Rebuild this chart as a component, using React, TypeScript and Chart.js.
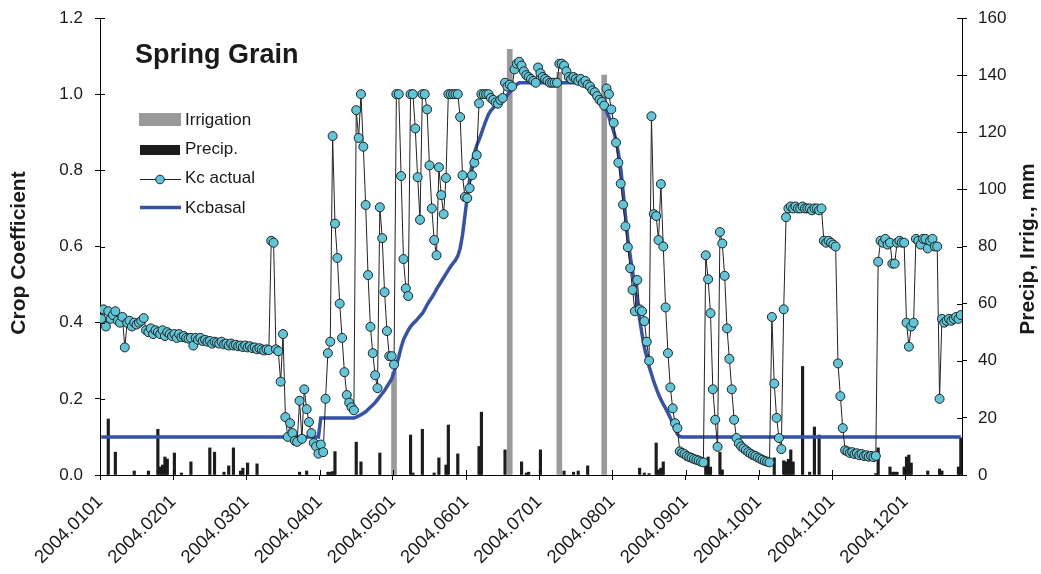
import React, { useEffect, useRef } from "react";
import { Chart, registerables } from "chart.js";

Chart.register(...registerables);

const FONT = "'Liberation Sans', Arial, Helvetica, sans-serif";

// Day-of-season tick positions and their date labels
const tickDays = [0, 31, 62, 93, 124, 155, 186, 217, 248, 279, 310, 341];
const tickLabels = [
  "2004.0101", "2004.0201", "2004.0301", "2004.0401", "2004.0501", "2004.0601",
  "2004.0701", "2004.0801", "2004.0901", "2004.1001", "2004.1101", "2004.1201",
];

// Daily actual crop coefficient (365 days)
const kcActual = [
  0.41, 0.435, 0.39, 0.43, 0.41, 0.42, 0.43, 0.405, 0.40, 0.415,
  0.335, 0.40, 0.405, 0.39, 0.40, 0.395, 0.40, 0.405, 0.412, 0.38,
  0.375, 0.385, 0.37, 0.38, 0.375, 0.37, 0.38, 0.365, 0.375, 0.37,
  0.365, 0.37, 0.36, 0.37, 0.362, 0.365, 0.36, 0.358, 0.36, 0.34,
  0.36, 0.355, 0.36, 0.352, 0.355, 0.35, 0.352, 0.345, 0.35, 0.348,
  0.345, 0.35, 0.343, 0.345, 0.34, 0.345, 0.34, 0.342, 0.338, 0.34,
  0.336, 0.34, 0.335, 0.338, 0.333, 0.335, 0.33, 0.333, 0.33, 0.327,
  0.33, 0.328, 0.615, 0.61, 0.33, 0.325, 0.245, 0.37, 0.152, 0.10,
  0.136, 0.11, 0.09, 0.087, 0.195, 0.095, 0.225, 0.173, 0.139, 0.11,
  0.084, 0.075, 0.056, 0.08, 0.06, 0.20, 0.32, 0.35, 0.89, 0.66,
  0.57, 0.45, 0.36, 0.27, 0.21, 0.19, 0.178, 0.17, 0.958, 0.885,
  1.0, 0.862, 0.709, 0.525, 0.389, 0.32, 0.262, 0.228, 0.703, 0.622,
  0.48, 0.378, 0.312, 0.312, 0.29, 1.0, 1.0, 0.785, 0.567, 0.49,
  0.47, 1.0, 1.0, 0.91, 0.782, 0.67, 1.0, 1.0, 0.96, 0.813,
  0.70, 0.617, 0.577, 0.808, 0.735, 0.685, 0.78, 1.0, 1.0, 1.0,
  1.0, 1.0, 0.94, 0.787, 0.73, 0.727, 0.753, 0.787, 0.82, 0.84,
  0.976, 1.0, 1.0, 1.0, 1.0, 0.99, 0.985, 0.978, 0.975, 0.985,
  0.99, 1.03, 1.02, 1.025, 1.02, 1.065, 1.08, 1.085, 1.075, 1.06,
  1.05, 1.045, 1.04, 1.035, 1.03, 1.07, 1.055, 1.045, 1.04,
  1.035, 1.03, 1.03, 1.03, 1.03, 1.08, 1.08, 1.075, 1.06, 1.045,
  1.04, 1.045, 1.04, 1.035, 1.04, 1.03, 1.035, 1.025, 1.02, 1.01,
  1.005, 0.995, 0.985, 0.98, 0.97, 1.015, 1.0, 0.96, 0.925, 0.873,
  0.82, 0.765, 0.71, 0.653, 0.598, 0.543, 0.486, 0.43, 0.512, 0.435,
  0.43, 0.404, 0.35, 0.30, 0.942, 0.685, 0.68, 0.617, 0.764, 0.60,
  0.44, 0.32, 0.23, 0.175, 0.136, 0.123, 0.062, 0.058, 0.055, 0.05,
  0.047, 0.045, 0.042, 0.04, 0.038, 0.035, 0.033, 0.577, 0.514, 0.425,
  0.225, 0.145, 0.074, 0.638, 0.608, 0.523, 0.385, 0.305, 0.225, 0.145,
  0.097, 0.083, 0.075, 0.07, 0.065, 0.06, 0.056, 0.052, 0.05, 0.046,
  0.043, 0.04, 0.037, 0.035, 0.033, 0.415, 0.24, 0.15, 0.097, 0.068,
  0.435, 0.677, 0.70, 0.705, 0.70, 0.705, 0.70, 0.70, 0.705, 0.70,
  0.70, 0.70, 0.695, 0.70, 0.70, 0.695, 0.70, 0.615, 0.61, 0.615,
  0.61, 0.605, 0.60, 0.293, 0.207, 0.123, 0.065, 0.062, 0.058, 0.06,
  0.055, 0.057, 0.052, 0.055, 0.05, 0.052, 0.048, 0.05, 0.047, 0.05,
  0.56, 0.615, 0.61, 0.62, 0.605, 0.61, 0.555, 0.555, 0.61, 0.615,
  0.61, 0.61, 0.40, 0.337, 0.39, 0.40, 0.62, 0.615, 0.605, 0.62,
  0.62, 0.595, 0.615, 0.62, 0.60, 0.60, 0.20, 0.41, 0.40, 0.405,
  0.41, 0.405, 0.41, 0.415, 0.41, 0.42,
];

// Daily basal crop coefficient (365 days)
const kcBasal = [
  0.10, 0.10, 0.10, 0.10, 0.10, 0.10, 0.10, 0.10, 0.10, 0.10,
  0.10, 0.10, 0.10, 0.10, 0.10, 0.10, 0.10, 0.10, 0.10, 0.10,
  0.10, 0.10, 0.10, 0.10, 0.10, 0.10, 0.10, 0.10, 0.10, 0.10,
  0.10, 0.10, 0.10, 0.10, 0.10, 0.10, 0.10, 0.10, 0.10, 0.10,
  0.10, 0.10, 0.10, 0.10, 0.10, 0.10, 0.10, 0.10, 0.10, 0.10,
  0.10, 0.10, 0.10, 0.10, 0.10, 0.10, 0.10, 0.10, 0.10, 0.10,
  0.10, 0.10, 0.10, 0.10, 0.10, 0.10, 0.10, 0.10, 0.10, 0.10,
  0.10, 0.10, 0.10, 0.10, 0.10, 0.10, 0.10, 0.10, 0.10, 0.10,
  0.10, 0.10, 0.10, 0.10, 0.10, 0.10, 0.10, 0.10, 0.10, 0.10,
  0.10, 0.10, 0.10,
  0.15, 0.15, 0.15, 0.15, 0.15, 0.15, 0.15, 0.15, 0.15, 0.15,
  0.15, 0.15, 0.15, 0.15, 0.15,
  0.152, 0.155, 0.158, 0.162, 0.166, 0.172, 0.178, 0.184, 0.19, 0.198,
  0.206, 0.214, 0.222, 0.232, 0.242, 0.252, 0.27, 0.29, 0.31, 0.335,
  0.355, 0.368, 0.38, 0.39, 0.397, 0.403, 0.41, 0.417, 0.424, 0.435,
  0.447, 0.457, 0.466, 0.476, 0.488, 0.498, 0.508, 0.518, 0.528, 0.538,
  0.548, 0.556, 0.564, 0.575, 0.595, 0.63, 0.68, 0.73, 0.775, 0.815,
  0.845, 0.865, 0.88, 0.897, 0.915, 0.932, 0.947, 0.957, 0.964, 0.97,
  0.975, 0.98, 0.986, 0.992, 0.998, 1.005, 1.012, 1.02, 1.026, 1.03,
  1.03, 1.03, 1.03, 1.03, 1.03, 1.03, 1.03, 1.03, 1.03, 1.03,
  1.03, 1.03, 1.03, 1.03, 1.03, 1.03, 1.03, 1.03, 1.03, 1.03,
  1.03, 1.03, 1.03, 1.03, 1.03, 1.03, 1.03,
  1.028, 1.025, 1.02, 1.015, 1.008, 1.0, 0.99, 0.98, 0.968, 0.955,
  0.94, 0.922, 0.902, 0.88, 0.845, 0.805, 0.745, 0.68, 0.62, 0.575,
  0.535, 0.495, 0.455, 0.41, 0.37, 0.335, 0.31, 0.285, 0.265, 0.245,
  0.228, 0.212, 0.198, 0.186, 0.175, 0.163, 0.15, 0.135, 0.12, 0.107,
  0.101,
  0.10, 0.10, 0.10, 0.10, 0.10, 0.10, 0.10, 0.10, 0.10, 0.10,
  0.10, 0.10, 0.10, 0.10, 0.10, 0.10, 0.10, 0.10, 0.10, 0.10,
  0.10, 0.10, 0.10, 0.10, 0.10, 0.10, 0.10, 0.10, 0.10, 0.10,
  0.10, 0.10, 0.10, 0.10, 0.10, 0.10, 0.10, 0.10, 0.10, 0.10,
  0.10, 0.10, 0.10, 0.10, 0.10, 0.10, 0.10, 0.10, 0.10, 0.10,
  0.10, 0.10, 0.10, 0.10, 0.10, 0.10, 0.10, 0.10, 0.10, 0.10,
  0.10, 0.10, 0.10, 0.10, 0.10, 0.10, 0.10, 0.10, 0.10, 0.10,
  0.10, 0.10, 0.10, 0.10, 0.10, 0.10, 0.10, 0.10, 0.10, 0.10,
  0.10, 0.10, 0.10, 0.10, 0.10, 0.10, 0.10, 0.10, 0.10, 0.10,
  0.10, 0.10, 0.10, 0.10, 0.10, 0.10, 0.10, 0.10, 0.10, 0.10,
  0.10, 0.10, 0.10, 0.10, 0.10, 0.10, 0.10, 0.10, 0.10, 0.10,
  0.10, 0.10, 0.10, 0.10, 0.10, 0.10, 0.10, 0.10, 0.10,
];

// Rain events: day index and depth (mm)
const precipDay = [
  3, 6, 14, 20, 24, 25, 26, 27, 28, 31, 34, 38, 46, 48, 52, 54, 56, 59, 60, 62,
  66, 84, 87, 96, 97, 98, 99, 108, 110, 118, 131, 132, 136, 141, 143, 146, 147, 151, 160, 161,
  171, 178, 180, 181, 186, 196, 200, 202, 206, 228, 230, 232, 235, 236, 237, 238, 256, 257, 258, 262,
  263, 285, 289, 290, 291, 292, 293, 297, 300, 302, 304, 328, 329, 334, 335, 336, 337, 340, 341, 342,
  343, 350, 355, 356, 363, 364,
];
const precipMm = [
  19.6, 8, 1.4, 1.4, 16, 2.8, 3.5, 6.3, 5.6, 7.7, 0.7, 4.6, 9.5, 8, 1, 3.2, 9.5, 1.4, 2.4, 4.2,
  3.9, 1, 1.4, 1, 1, 1.2, 8.2, 11.5, 4.6, 7.7, 14, 0.7, 16, 0.7, 6, 3.5, 17.5, 7.4, 10, 22,
  8.8, 4.6, 0.7, 1, 8.8, 1.4, 1, 1.4, 3.2, 2.4, 0.7, 0.5, 11.2, 1.8, 2.4, 4.6, 4, 6.3, 2.8, 8,
  1.8, 6, 5, 4.6, 5.5, 8.8, 4.6, 38, 1, 16.8, 14, 0.5, 9.5, 2.8, 1, 1, 1, 2.8, 6.3, 7,
  4.2, 1.4, 2.1, 1.4, 2.8, 13,
];

// Irrigation events: day index and depth (mm)
const irrigDay = [124, 173, 194, 213];
const irrigMm = [36, 149, 141, 140];

const COLORS = {
  irrigation: "#9a9a9a",
  precip: "#1c1c1c",
  kcActualLine: "#222222",
  kcActualFill: "#5ec6d8",
  kcBasal: "#3552a8",
  text: "#1a1a1a",
};

const overlayPlugin = {
  id: "overlay",
  afterDraw(chart: any) {
    const { ctx, chartArea, scales } = chart;
    ctx.save();

    // tick marks that cross into the plot
    ctx.strokeStyle = "#000";
    ctx.lineWidth = 1;
    ctx.beginPath();
    scales.y.ticks.forEach((t: any) => {
      const py = Math.round(scales.y.getPixelForValue(t.value)) + 0.5;
      ctx.moveTo(chartArea.left, py);
      ctx.lineTo(chartArea.left + 5, py);
    });
    scales.y1.ticks.forEach((t: any) => {
      const py = Math.round(scales.y1.getPixelForValue(t.value)) + 0.5;
      ctx.moveTo(chartArea.right - 5, py);
      ctx.lineTo(chartArea.right, py);
    });
    scales.x.ticks.forEach((t: any) => {
      const px = Math.round(scales.x.getPixelForValue(t.value)) + 0.5;
      ctx.moveTo(px, chartArea.bottom - 5);
      ctx.lineTo(px, chartArea.bottom);
    });
    ctx.stroke();

    // chart title
    ctx.fillStyle = COLORS.text;
    ctx.textAlign = "left";
    ctx.textBaseline = "alphabetic";
    ctx.font = `bold 27px ${FONT}`;
    ctx.fillText("Spring Grain", 135, 63);

    // axis titles
    ctx.font = `bold 21px ${FONT}`;
    ctx.textAlign = "center";
    ctx.textBaseline = "middle";
    ctx.save();
    ctx.translate(19, 253);
    ctx.rotate(-Math.PI / 2);
    ctx.fillText("Crop Coefficient", 0, 0);
    ctx.restore();
    ctx.save();
    ctx.translate(1028, 249);
    ctx.rotate(-Math.PI / 2);
    ctx.fillText("Precip, Irrig., mm", 0, 0);
    ctx.restore();

    // legend
    ctx.fillStyle = COLORS.irrigation;
    ctx.fillRect(139, 113, 42, 13);
    ctx.fillStyle = COLORS.precip;
    ctx.fillRect(140, 145, 40, 10);

    ctx.strokeStyle = COLORS.kcActualLine;
    ctx.lineWidth = 1;
    ctx.beginPath();
    ctx.moveTo(140, 179.5);
    ctx.lineTo(181, 179.5);
    ctx.stroke();
    ctx.beginPath();
    ctx.arc(160, 179.5, 4.3, 0, Math.PI * 2);
    ctx.fillStyle = COLORS.kcActualFill;
    ctx.fill();
    ctx.stroke();

    ctx.strokeStyle = COLORS.kcBasal;
    ctx.lineWidth = 3.5;
    ctx.beginPath();
    ctx.moveTo(140, 207.5);
    ctx.lineTo(181, 207.5);
    ctx.stroke();

    ctx.fillStyle = COLORS.text;
    ctx.font = `17px ${FONT}`;
    ctx.textAlign = "left";
    ctx.textBaseline = "alphabetic";
    ctx.fillText("Irrigation", 185, 125);
    ctx.fillText("Precip.", 185, 153.5);
    ctx.fillText("Kc actual", 185, 183);
    ctx.fillText("Kcbasal", 185, 213);

    ctx.restore();
  },
};

export default function App() {
  const ref = useRef<HTMLCanvasElement | null>(null);

  useEffect(() => {
    if (!ref.current) return;
    const yTickFont = { family: FONT, size: 17 };
    const xTickFont = { family: FONT, size: 18.5 };
    const chart = new Chart(ref.current, {
      type: "line",
      data: {
        datasets: [
          {
            type: "bar",
            label: "Irrigation",
            data: irrigDay.map((d, i) => ({ x: d + 0.5, y: irrigMm[i] })),
            yAxisID: "y1",
            backgroundColor: COLORS.irrigation,
            barThickness: 5,
            grouped: false,
            order: 4,
          },
          {
            type: "bar",
            label: "Precip.",
            data: precipDay.map((d, i) => ({ x: d + 0.5, y: precipMm[i] })),
            yAxisID: "y1",
            backgroundColor: COLORS.precip,
            barThickness: 2.5,
            grouped: false,
            order: 3,
          },
          {
            type: "line",
            label: "Kcbasal",
            data: kcBasal.map((v, i) => ({ x: i + 0.5, y: v })),
            yAxisID: "y",
            borderColor: COLORS.kcBasal,
            borderWidth: 3.5,
            pointRadius: 0,
            tension: 0,
            order: 2,
          },
          {
            type: "line",
            label: "Kc actual",
            data: kcActual.map((v, i) => ({ x: i + 0.5, y: v })),
            yAxisID: "y",
            borderColor: COLORS.kcActualLine,
            borderWidth: 1,
            pointRadius: 4.5,
            pointBackgroundColor: COLORS.kcActualFill,
            pointBorderColor: COLORS.kcActualLine,
            pointBorderWidth: 1,
            tension: 0,
            order: 1,
          },
        ] as any,
      },
      options: {
        responsive: false,
        animation: false,
        layout: { padding: { top: 18, left: 0, right: 0, bottom: 0 } },
        plugins: { legend: { display: false }, tooltip: { enabled: false } },
        scales: {
          x: {
            type: "linear",
            min: 0,
            max: 365,
            offset: false,
            afterBuildTicks: (axis: any) => {
              axis.ticks = tickDays.map((v) => ({ value: v }));
            },
            afterFit: (axis: any) => {
              axis.height = 99;
            },
            ticks: {
              autoSkip: false,
              minRotation: 45,
              maxRotation: 45,
              padding: 11,
              color: COLORS.text,
              font: xTickFont,
              callback: (value: any) => {
                const k = tickDays.indexOf(Number(value));
                return k >= 0 ? tickLabels[k] : "";
              },
            },
            grid: { drawOnChartArea: false, drawTicks: true, tickLength: 5, color: "#000", offset: false },
            border: { display: true, color: "#000", width: 1 },
          },
          y: {
            position: "left",
            min: 0,
            max: 1.2,
            afterFit: (axis: any) => {
              axis.width = 100;
              axis.paddingTop = 0;
              axis.paddingBottom = 0;
            },
            ticks: {
              stepSize: 0.2,
              padding: 12,
              color: COLORS.text,
              font: yTickFont,
              callback: (value: any) => Number(value).toFixed(1),
            },
            grid: { drawOnChartArea: false, drawTicks: true, tickLength: 5, color: "#000" },
            border: { display: true, color: "#000", width: 1 },
          },
          y1: {
            position: "right",
            min: 0,
            max: 160,
            afterFit: (axis: any) => {
              axis.width = 79;
              axis.paddingTop = 0;
              axis.paddingBottom = 0;
            },
            ticks: {
              stepSize: 20,
              padding: 11,
              color: COLORS.text,
              font: yTickFont,
            },
            grid: { drawOnChartArea: false, drawTicks: true, tickLength: 5, color: "#000" },
            border: { display: true, color: "#000", width: 1 },
          },
        },
      } as any,
      plugins: [overlayPlugin],
    });
    return () => chart.destroy();
  }, []);

  return (
    <div style={{ position: "fixed", left: 0, top: 0, width: 1041, height: 574, background: "#fff" }}>
      <canvas ref={ref} width={1041} height={574} style={{ display: "block", width: 1041, height: 574 }} />
    </div>
  );
}
